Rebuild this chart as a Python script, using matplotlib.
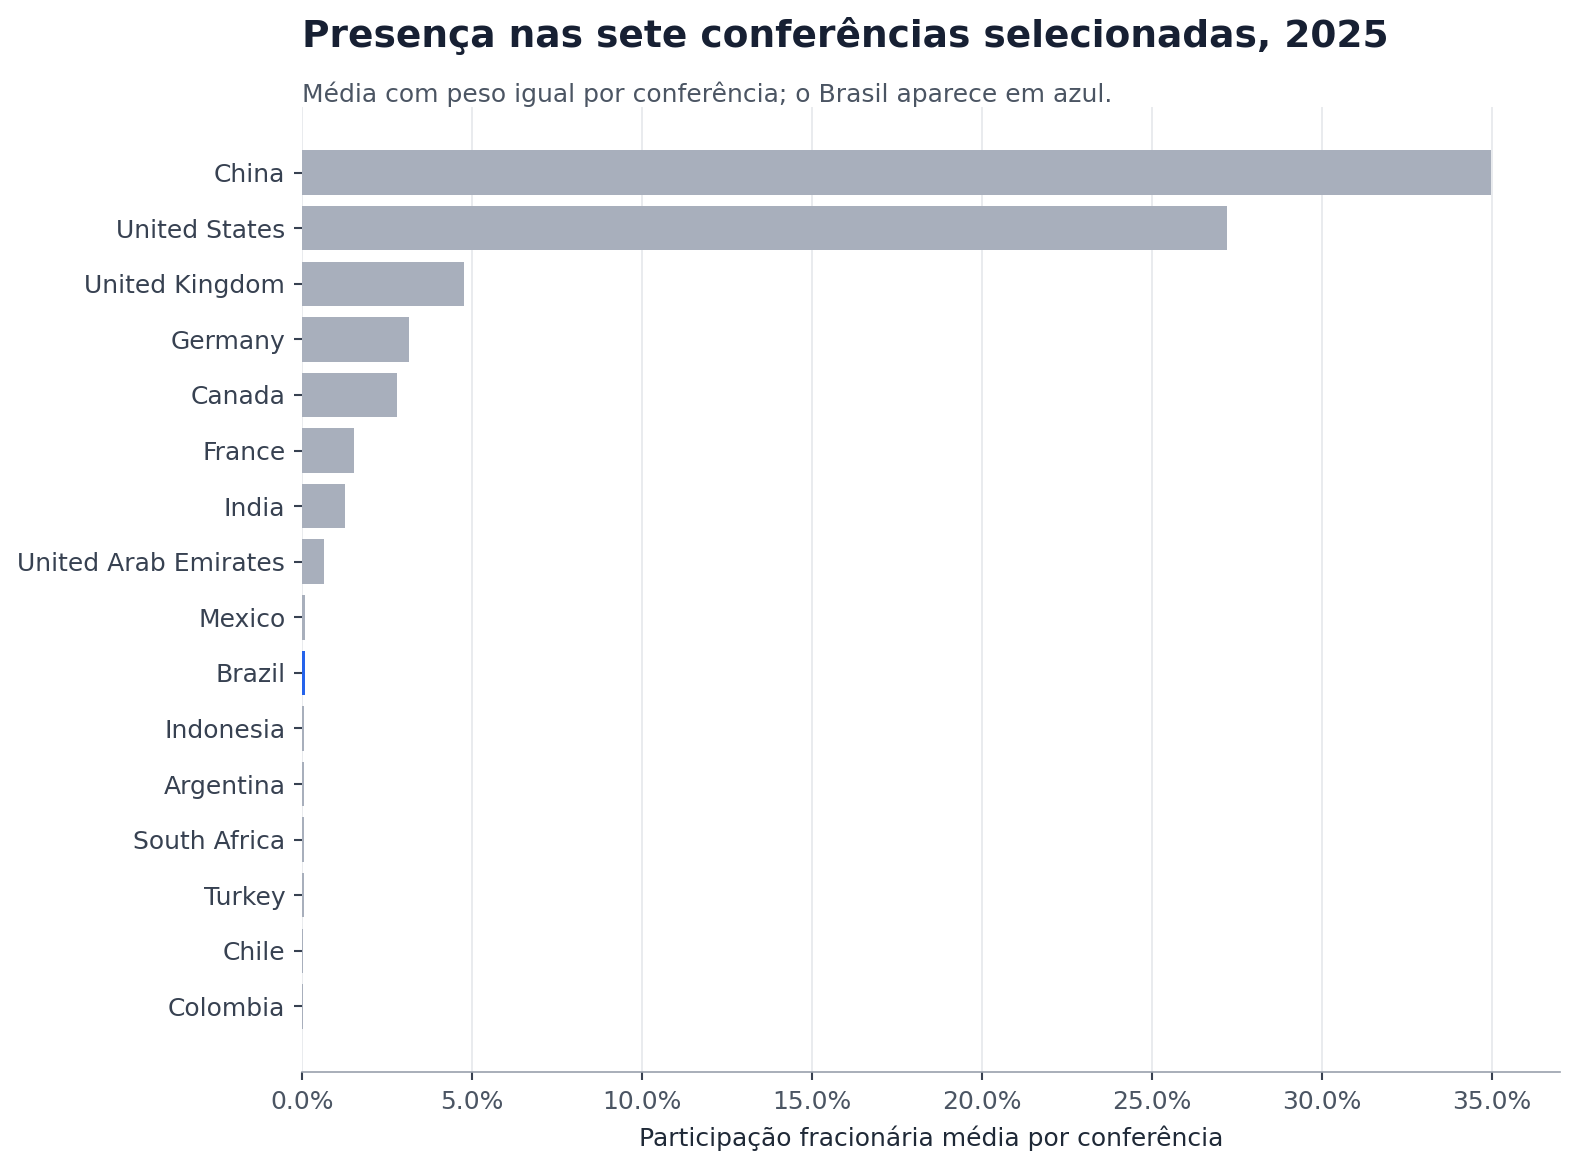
import matplotlib
matplotlib.use("Agg")
import matplotlib.pyplot as plt
from matplotlib.ticker import PercentFormatter

countries = ["China", "United States", "United Kingdom", "Germany", "Canada", "France",
             "India", "United Arab Emirates", "Mexico", "Brazil", "Indonesia", "Argentina",
             "South Africa", "Turkey", "Chile", "Colombia"]
shares = [34.97, 27.22, 4.75, 3.14, 2.78, 1.53, 1.27, 0.64, 0.09, 0.09, 0.06, 0.06,
          0.05, 0.05, 0.04, 0.02]
highlight = "Brazil"
xticks = [0, 5, 10, 15, 20, 25, 30, 35]

GREY = "#a8afbc"
BLUE = "#2563eb"

fig = plt.figure(figsize=(15.76, 11.73), dpi=100)
ax = fig.add_axes([302/1576, 1-1072/1173, (1560-302)/1576, (1072-107)/1173])

ypos = list(range(len(countries)))
colors = [BLUE if c == highlight else GREY for c in countries]
ax.barh(ypos, shares, height=0.8, color=colors, zorder=3)

ax.set_yticks(ypos)
ax.set_yticklabels(countries)
ax.set_ylim(len(countries) - 1 + 1.18, -1.18)
ax.set_xlim(0, 37.0)
ax.set_xticks(xticks)
ax.xaxis.set_major_formatter(PercentFormatter(decimals=1))

ax.grid(axis="x", color="#e5e7eb", linewidth=1.2, zorder=0)
ax.grid(axis="y", visible=False)
for s in ["top", "right", "left"]:
    ax.spines[s].set_visible(False)
ax.spines["bottom"].set_color("#9aa1ad")
ax.spines["bottom"].set_linewidth(1.2)

ax.tick_params(axis="both", labelsize=18, colors="#374151", length=6, width=1.5)
ax.tick_params(axis="x", labelcolor="#4b5563", pad=7)
ax.tick_params(axis="y", pad=6)

ax.set_xlabel("Participação fracionária média por conferência", fontsize=18,
              color="#1f2937", labelpad=8)

fig.text(302/1576, 1-36/1173, "Presença nas sete conferências selecionadas, 2025",
         fontsize=27, fontweight="bold", color="#172033", ha="left", va="center")
fig.text(302/1576, 1-94/1173, "Média com peso igual por conferência; o Brasil aparece em azul.",
         fontsize=18, color="#4b5563", ha="left", va="center")

fig.savefig("out.png", dpi=100)
